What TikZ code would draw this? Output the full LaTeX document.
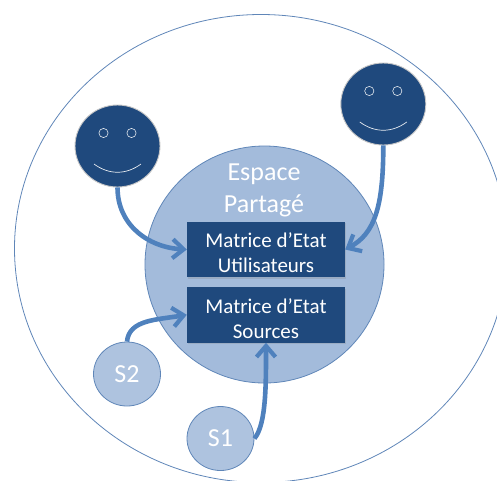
\documentclass[tikz,border=0pt]{standalone}
\usepackage{fontspec}
\setmainfont{Carlito}
\usetikzlibrary{arrows.meta,shapes.geometric,shadows}
\definecolor{navy}{HTML}{1F497D}
\definecolor{zone}{HTML}{A3BBDB}
\definecolor{source}{HTML}{AEC3DF}
\definecolor{edge}{HTML}{5F86B8}
\definecolor{flow}{HTML}{4F81BD}
\begin{document}
\begin{tikzpicture}[x=1pt,y=-1pt,>={Straight Barb[length=11pt,width=19pt,line width=4.2pt]},
    round/.style={ellipse,inner sep=0pt},
    face/.style={round,fill=navy,draw=black!22,line width=.9pt,minimum width=85pt,minimum height=82pt},
    eye/.style={circle,draw=white!88!navy,line width=.6pt,inner sep=0pt,minimum size=9.2pt},
    smile/.style={draw=white!88!navy,line width=.7pt},
    matrix box/.style={fill=navy,text=white,align=center,font=\fontsize{21}{25}\selectfont,minimum width=158pt,minimum height=55.5pt,inner sep=0pt,drop shadow={opacity=.25,shadow xshift=1pt,shadow yshift=-1.5pt}},
    source node/.style={round,fill=source,draw=edge,line width=.8pt,text=white,font=\fontsize{26}{26}\selectfont,minimum width=67pt,minimum height=64pt},
    flow line/.style={->,draw=flow,line width=4.6pt}]
        \clip (0,0) rectangle (497,480);
        \node[round,draw=edge,line width=.8pt,minimum width=493pt,minimum height=468pt] (univers) at (261,248.5) {};
        \node[round,fill=zone,draw=edge,line width=.8pt,minimum width=239pt,minimum height=237pt] (espace) at (264.5,264.5) {};
        \node[text=white,align=center,font=\fontsize{26}{32}\selectfont] (titre) at (264,190) {Espace\\Partagé};
        \node[matrix box] (m1) at (266,249.5) {\rule{0pt}{22pt}Matrice d’Etat\\Utilisateurs};
        \node[matrix box] (m2) at (266,314.8) {\rule{0pt}{22pt}Matrice d’Etat\\Sources};
        \foreach[count=\x] \u/\v in {117.5/146,383.3/104}{
            \node[face] (f\x) at (\u,\v) {};
            \node[eye] (g\x) at (\u-14,\v-13) {};
            \node[eye] (d\x) at (\u+14,\v-13) {};
            \draw[smile] ([shift={(-23.5,18)}]f\x.center) .. controls +(15,11) and +(-15,11) .. +(47,0);
        }
        \node[source node] (s2) at (127,374) {S2};
        \node[source node] (s1) at (220.5,438.5) {S1};
        \draw[flow line] (f1.south) .. controls +(0,38) and +(-38,-2) .. (m1.west);
        \draw[flow line] (f2.south) .. controls +(0,60) and +(30,-16) .. (m1.east);
        \draw[flow line] (s2.north) .. controls +(2,-22) and +(-30,5) .. (m2.west);
        \draw[flow line] (s1.east) .. controls +(12,-14) and +(0,40) .. (m2.south);
    \end{tikzpicture}
\end{document}
